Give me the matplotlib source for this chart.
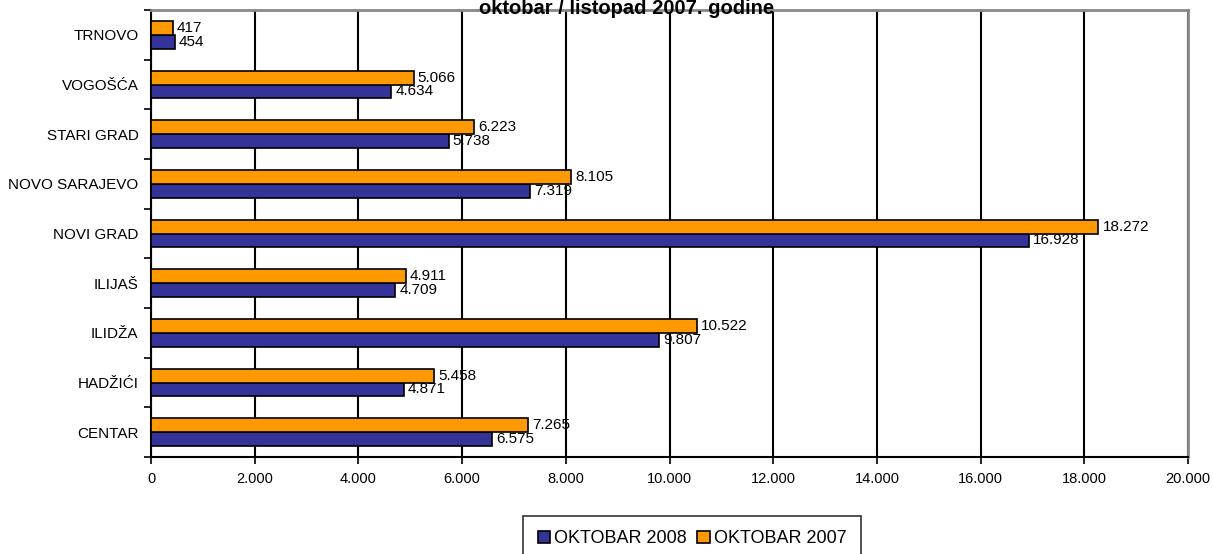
import matplotlib
matplotlib.use("Agg")
import matplotlib.pyplot as plt
import numpy as np

categories = ["CENTAR", "HADŽIĆI", "ILIDŽA", "ILIJAŠ", "NOVI GRAD",
              "NOVO SARAJEVO", "STARI GRAD", "VOGOŠĆA", "TRNOVO"]
oct2008 = [6575, 4871, 9807, 4709, 16928, 7319, 5738, 4634, 454]
oct2007 = [7265, 5458, 10522, 4911, 18272, 8105, 6223, 5066, 417]
series_names = ["OKTOBAR 2008", "OKTOBAR 2007"]
title = "oktobar / listopad 2007. godine"
xticks = list(range(0, 20001, 2000))

plt.rcParams['font.family'] = ['Liberation Sans', 'DejaVu Sans']

fig = plt.figure(figsize=(12.13, 5.54), dpi=100)
ax = fig.add_axes([151/1213, 1-457/554, (1188-151)/1213, (457-10)/554])

y = np.arange(len(categories))
h = 0.28
c08 = "#333399"
c07 = "#FF9900"
b08 = ax.barh(y - h/2, oct2008, height=h, color=c08, edgecolor="black", linewidth=1.2, zorder=3, label=series_names[0])
b07 = ax.barh(y + h/2, oct2007, height=h, color=c07, edgecolor="black", linewidth=1.2, zorder=3, label=series_names[1])

def fmt(v):
    return f"{v:,}".replace(",", ".")

for yi, v in zip(y, oct2008):
    ax.annotate(fmt(v), (v, yi - h/2), xytext=(3, 0), textcoords="offset points",
                va="center", ha="left", fontsize=11, zorder=4)
for yi, v in zip(y, oct2007):
    ax.annotate(fmt(v), (v, yi + h/2), xytext=(3, 0), textcoords="offset points",
                va="center", ha="left", fontsize=11, zorder=4)

ax.set_xlim(0, 20000)
ax.set_ylim(-0.5, len(categories) - 0.5)
ax.set_xticks(xticks)
ax.set_xticklabels([fmt(t) for t in xticks], fontsize=10.5)
ax.set_yticks(y)
ax.set_yticklabels(categories, fontsize=11)
ax.set_yticks(np.arange(-0.5, len(categories), 1), minor=True)
ax.tick_params(axis="y", which="major", length=0, pad=9)
ax.tick_params(axis="y", which="minor", length=5, width=1.2, color="black")
ax.tick_params(axis="x", length=5, width=1.2, pad=6)
ax.grid(axis="x", color="black", linewidth=1.5, zorder=1)
ax.set_axisbelow(True)

for s in ["left", "bottom"]:
    ax.spines[s].set_color("black")
    ax.spines[s].set_linewidth(1.5)
for s in ["top", "right"]:
    ax.spines[s].set_color("#888888")
    ax.spines[s].set_linewidth(2)

fig.text(627/1213, 1-14/554, title, ha="center", va="baseline", fontsize=14.5, fontweight="bold")

leg = fig.legend(handles=[b08, b07], labels=series_names, loc="upper center",
                 bbox_to_anchor=(692/1213, 1-516/554), ncol=2, fontsize=13,
                 frameon=True, fancybox=False, edgecolor="black", borderpad=0.8,
                 handlelength=0.7, handleheight=0.7, handletextpad=0.2, columnspacing=0.6,
                 borderaxespad=0)
leg.get_frame().set_linewidth(1.2)

fig.savefig("out.png", dpi=100)
